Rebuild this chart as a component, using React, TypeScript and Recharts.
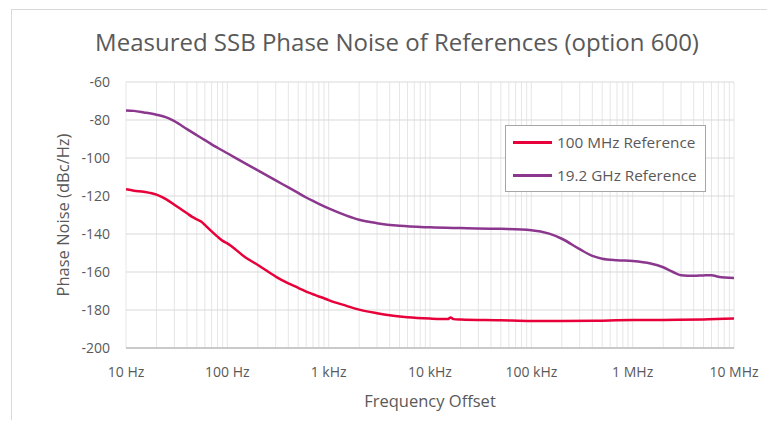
import React from "react";
import { LineChart, Line, XAxis, YAxis, CartesianGrid } from "recharts";

const title = "Measured SSB Phase Noise of References (option 600)";
const xTitle = "Frequency Offset";
const yTitle = "Phase Noise (dBc/Hz)";

const seriesNames = ["100 MHz Reference", "19.2 GHz Reference"];
const seriesColors = ["#E8003A", "#8C378E"];

const decadeTicks = [10, 100, 1000, 10000, 100000, 1000000, 10000000];
const decadeLabels = ["10 Hz", "100 Hz", "1 kHz", "10 kHz", "100 kHz", "1 MHz", "10 MHz"];
const yTicks = [-200, -180, -160, -140, -120, -100, -80, -60];

const redFreq = [10, 12, 15, 20, 25, 30, 35, 40, 45, 50, 55, 60, 70, 80, 90, 100, 150, 200, 300, 400, 500, 600, 700, 800, 900, 1000, 1500, 2000, 3000, 4000, 6000, 10000, 15000, 16000, 17000, 20000, 50000, 100000, 200000, 500000, 1000000, 2000000, 5000000, 10000000];
const redVals = [-116.5, -117.2, -117.8, -119.3, -121.8, -124.6, -127, -129.1, -131, -132.3, -133.4, -135.2, -138.6, -141.4, -143.6, -144.9, -152.2, -156.3, -162.4, -166, -168.3, -170.3, -171.7, -172.9, -173.8, -174.8, -177.8, -179.8, -181.7, -182.8, -183.8, -184.5, -184.8, -183.9, -184.8, -185, -185.4, -185.8, -185.8, -185.6, -185.3, -185.2, -185, -184.5];

const purpleFreq = [10, 12, 15, 20, 25, 30, 40, 50, 60, 70, 80, 100, 150, 200, 300, 400, 500, 600, 700, 800, 1000, 1500, 2000, 3000, 5000, 10000, 20000, 50000, 100000, 150000, 200000, 300000, 400000, 500000, 700000, 1000000, 1500000, 2000000, 2500000, 3000000, 4000000, 5000000, 6000000, 7000000, 10000000];
const purpleVals = [-75, -75.2, -76, -77.2, -78.6, -80.6, -84.8, -88, -90.6, -92.8, -94.6, -97.5, -102.8, -106.5, -111.8, -115.5, -118.4, -120.8, -122.6, -124.1, -126.5, -130.3, -132.5, -134.3, -135.7, -136.5, -136.9, -137.3, -138, -139.8, -142.5, -148, -151.5, -153, -153.8, -154.2, -155.5, -157.5, -160, -161.7, -162, -161.8, -161.7, -162.5, -163.2];

const redData = redFreq.map((f, i) => ({ f, v: redVals[i] }));
const purpleData = purpleFreq.map((f, i) => ({ f, v: purpleVals[i] }));

const xTicks: number[] = [];
for (let d = 10; d < 10000000; d *= 10) {
  for (let m = 1; m <= 9; m++) xTicks.push(d * m);
}
xTicks.push(10000000);

const FONT = "'Open Sans', sans-serif";
const TXT = "#595959";

const fmtX = (v: number) => {
  const i = decadeTicks.findIndex((d) => Math.abs(d - v) / d < 1e-6);
  return i >= 0 ? decadeLabels[i] : "";
};

const LegendBox = () => (
  <div
    style={{
      position: "absolute",
      left: 497,
      top: 117,
      width: 201,
      height: 67,
      boxSizing: "border-box",
      border: "1.5px solid #a6a6a6",
      background: "#fff",
      fontFamily: FONT,
      fontSize: 15.3,
      color: TXT,
    }}
  >
    {seriesNames.map((n, i) => (
      <div
        key={n}
        style={{ position: "absolute", left: 7, top: i === 0 ? 5 : 38, display: "flex", alignItems: "center", height: 22, whiteSpace: "nowrap" }}
      >
        <div style={{ width: 39, height: 3, background: seriesColors[i], marginRight: 5 }} />
        <span>{n}</span>
      </div>
    ))}
  </div>
);

export default function App() {
  return (
    <div style={{ position: "relative", width: 759, height: 412, overflow: "hidden", background: "#fff" }}>
      <div style={{ position: "absolute", left: 3, top: 1, width: 800, height: 500, borderTop: "1px solid #d9d9d9", borderLeft: "1px solid #d9d9d9" }} />
      <div
        style={{
          position: "absolute",
          left: 389,
          top: 20,
          transform: "translateX(-50%)",
          fontFamily: FONT,
          fontSize: 24,
          lineHeight: "28px",
          color: TXT,
          whiteSpace: "nowrap",
        }}
      >
        {title}
      </div>
      <div
        style={{
          position: "absolute",
          left: 54,
          top: 207,
          transform: "translate(-50%, -50%) rotate(-90deg)",
          fontFamily: FONT,
          fontSize: 16.5,
          color: TXT,
          whiteSpace: "nowrap",
        }}
      >
        {yTitle}
      </div>
      <div
        style={{
          position: "absolute",
          left: 422,
          top: 392,
          transform: "translate(-50%, -50%)",
          fontFamily: FONT,
          fontSize: 16.5,
          color: TXT,
          whiteSpace: "nowrap",
        }}
      >
        {xTitle}
      </div>
      <div style={{ position: "absolute", left: 0, top: 0 }}>
        <LineChart width={759} height={412} margin={{ top: 74, right: 33, left: 0, bottom: 42 }}>
          <CartesianGrid horizontal={false} vertical={true} stroke="#e6e6e6" strokeWidth={1} />
          <CartesianGrid horizontal={true} vertical={false} stroke="#d9d9d9" strokeWidth={1} />
          <XAxis
            dataKey="f"
            type="number"
            scale="log"
            domain={[10, 10000000]}
            ticks={xTicks}
            tickFormatter={fmtX}
            interval={0}
            allowDataOverflow
            height={30}
            tickLine={false}
            tickSize={8}
            tickMargin={11}
            axisLine={{ stroke: "#bfbfbf", strokeWidth: 1.5 }}
            tick={{ fill: TXT, fontFamily: FONT, fontSize: 14 }}
          />
          <YAxis
            type="number"
            domain={[-200, -60]}
            ticks={yTicks}
            interval={0}
            width={118}
            tickLine={false}
            tickSize={8}
            tickMargin={8}
            axisLine={false}
            tick={{ fill: TXT, fontFamily: FONT, fontSize: 14 }}
          />
          <Line data={redData} dataKey="v" name={seriesNames[0]} stroke={seriesColors[0]} strokeWidth={2.5} dot={false} isAnimationActive={false} type="monotone" />
          <Line data={purpleData} dataKey="v" name={seriesNames[1]} stroke={seriesColors[1]} strokeWidth={2.5} dot={false} isAnimationActive={false} type="monotone" />
        </LineChart>
      </div>
      <LegendBox />
    </div>
  );
}
